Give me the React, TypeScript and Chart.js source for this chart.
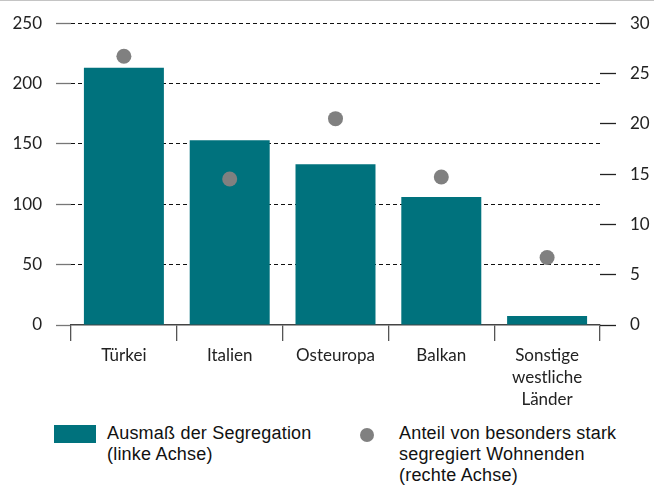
import React, { useEffect, useRef } from "react";
import { Chart, registerables } from "chart.js";

Chart.register(...registerables);

const categories: (string | string[])[] = [
  "Türkei",
  "Italien",
  "Osteuropa",
  "Balkan",
  ["Sonstige", "westliche", "Länder"],
];
const segregation = [213, 153, 133, 106, 7.5];
const shareStrong = [26.7, 14.5, 20.5, 14.7, 6.7];
const leftTicks = [0, 50, 100, 150, 200, 250];
const rightTicks = [0, 5, 10, 15, 20, 25, 30];
const seriesLabels = [
  ["Ausmaß der Segregation", "(linke Achse)"],
  ["Anteil von besonders stark", "segregiert Wohnenden", "(rechte Achse)"],
];

const TEAL = "#00727D";
const GREY = "#808080";
const TICK_FONT = { family: "Lato", size: 17, lineHeight: 1.3 };

export default function App() {
  const ref = useRef<HTMLCanvasElement | null>(null);

  useEffect(() => {
    if (!ref.current) return;
    const chart = new Chart(ref.current, {
      type: "bar",
      data: {
        labels: categories as any,
        datasets: [
          {
            type: "bar",
            label: seriesLabels[0].join(" "),
            data: segregation,
            backgroundColor: TEAL,
            borderWidth: 0,
            barPercentage: 0.756,
            categoryPercentage: 1,
            yAxisID: "y",
            order: 2,
          },
          {
            type: "line",
            label: seriesLabels[1].join(" "),
            data: shareStrong,
            showLine: false,
            pointRadius: 7.5,
            pointHoverRadius: 7.5,
            pointBackgroundColor: GREY,
            pointBorderWidth: 0,
            borderColor: GREY,
            yAxisID: "y1",
            order: 1,
          } as any,
        ],
      },
      options: {
        animation: false,
        responsive: false,
        maintainAspectRatio: false,
        layout: { autoPadding: false, padding: { top: 22, left: 0, right: 0, bottom: 0 } },
        plugins: { legend: { display: false }, tooltip: { enabled: false } },
        scales: {
          x: {
            offset: true,
            grid: {
              offset: true,
              drawOnChartArea: false,
              drawTicks: true,
              tickLength: 16,
              color: "#555",
              lineWidth: 1.3,
            },
            border: { display: true, color: "#444", width: 1.5 },
            ticks: { color: "#222", font: TICK_FONT, padding: 3, maxRotation: 0, autoSkip: false },
            afterFit: (s: any) => {
              s.height = 83;
            },
          },
          y: {
            position: "left",
            min: 0,
            max: 250,
            afterBuildTicks: (s: any) => {
              s.ticks = leftTicks.map((v) => ({ value: v }));
            },
            grid: {
              drawTicks: true,
              tickLength: 15,
              color: (ctx: any) => (ctx.tick && ctx.tick.value === 0 ? "rgba(0,0,0,0)" : "#111"),
              tickColor: "#777",
              lineWidth: 1,
              tickWidth: 1.3,
            },
            border: { display: false, dash: [4, 3] },
            ticks: { color: "#222", font: TICK_FONT, padding: 14 },
            afterFit: (s: any) => {
              s.width = 71;
            },
          },
          y1: {
            position: "right",
            min: 0,
            max: 30,
            afterBuildTicks: (s: any) => {
              s.ticks = rightTicks.map((v) => ({ value: v }));
            },
            grid: {
              drawOnChartArea: false,
              drawTicks: true,
              tickLength: 16,
              color: "#222",
              tickWidth: 1.3,
            },
            border: { display: false },
            ticks: { color: "#222", font: TICK_FONT, padding: 14 },
            afterFit: (s: any) => {
              s.width = 54;
            },
          },
        },
      },
    });
    return () => chart.destroy();
  }, []);

  const legendText: React.CSSProperties = {
    position: "absolute",
    fontFamily: "'Liberation Sans', Arial, sans-serif",
    fontSize: 18,
    letterSpacing: 0.2,
    lineHeight: "21px",
    color: "#111",
    whiteSpace: "nowrap",
  };

  return (
    <div
      style={{
        position: "absolute",
        left: 0,
        top: 0,
        width: 654,
        height: 486,
        background: "#fff",
        overflow: "hidden",
      }}
    >
      <canvas ref={ref} width={654} height={410} style={{ position: "absolute", left: 0, top: -2 }} />
      <div style={{ position: "absolute", left: 0, top: 0, width: 654, height: 1, background: "#c4c4c4" }} />
      <div style={{ position: "absolute", left: 54, top: 425, width: 42, height: 18, background: TEAL }} />
      <div style={{ ...legendText, left: 107, top: 423 }}>
        {seriesLabels[0].map((t, i) => (
          <div key={i}>{t}</div>
        ))}
      </div>
      <div
        style={{
          position: "absolute",
          left: 360,
          top: 428,
          width: 14,
          height: 14,
          borderRadius: 7,
          background: GREY,
        }}
      />
      <div style={{ ...legendText, left: 399, top: 423 }}>
        {seriesLabels[1].map((t, i) => (
          <div key={i}>{t}</div>
        ))}
      </div>
    </div>
  );
}
